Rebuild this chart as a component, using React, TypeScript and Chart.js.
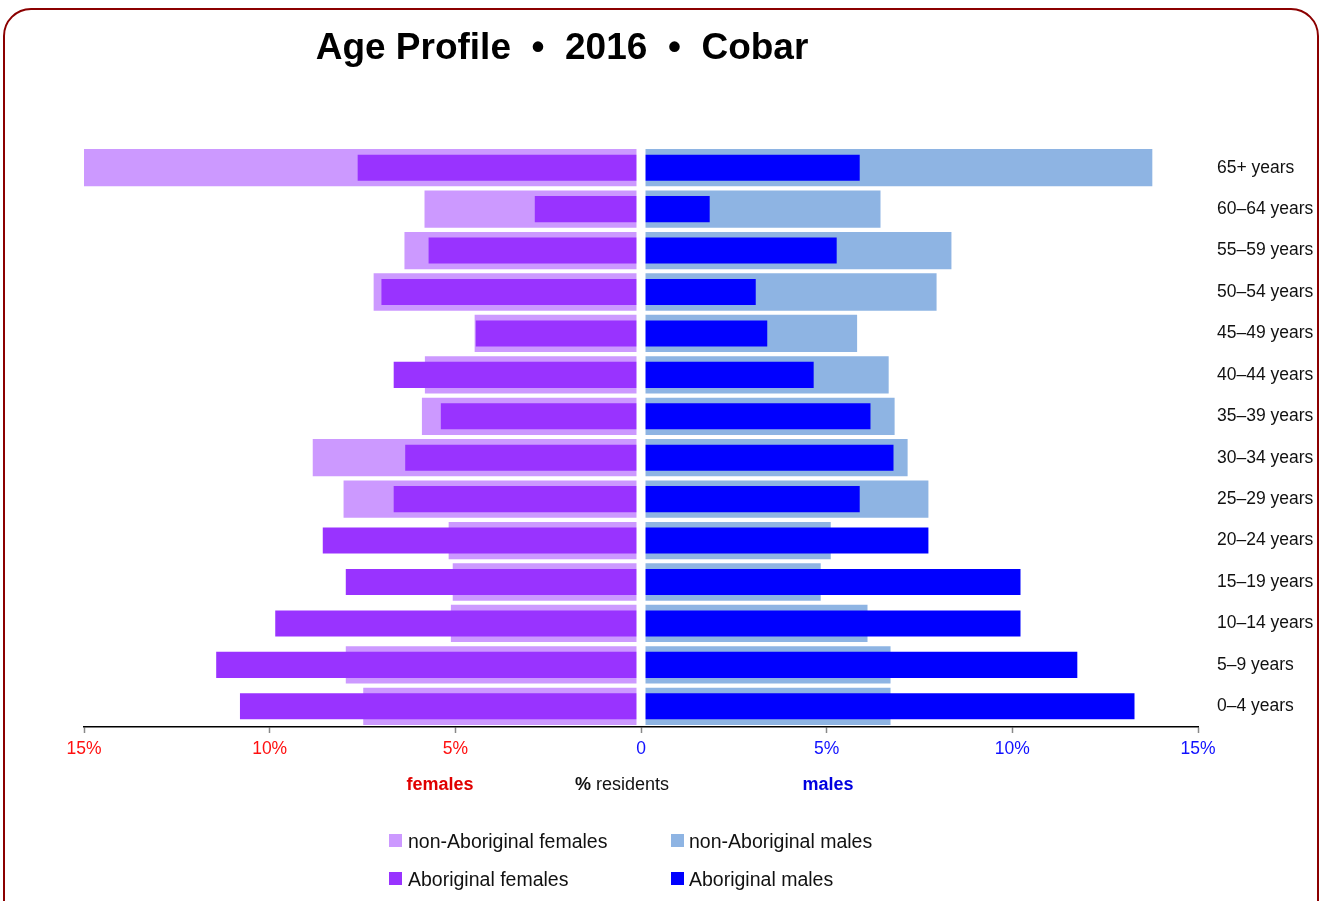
import React, { useEffect, useRef } from "react";
import { Chart, registerables } from "chart.js";

Chart.register(...registerables);

const ageGroups = [
  "65+ years",
  "60–64 years",
  "55–59 years",
  "50–54 years",
  "45–49 years",
  "40–44 years",
  "35–39 years",
  "30–34 years",
  "25–29 years",
  "20–24 years",
  "15–19 years",
  "10–14 years",
  "5–9 years",
  "0–4 years",
];

// % of residents (females shown to the left)
const nonAbFemales = [15.0, 5.83, 6.37, 7.2, 4.48, 5.82, 5.9, 8.84, 8.01, 5.18, 5.07, 5.12, 7.95, 7.48];
const abFemales = [7.63, 2.86, 5.72, 6.99, 4.45, 6.66, 5.39, 6.35, 6.66, 8.57, 7.95, 9.85, 11.44, 10.8];
const nonAbMales = [13.77, 6.45, 8.36, 7.96, 5.82, 6.67, 6.83, 7.18, 7.74, 5.11, 4.84, 6.1, 6.72, 6.72];
const abMales = [5.89, 1.85, 5.27, 3.09, 3.4, 4.65, 6.18, 6.8, 5.89, 7.74, 10.22, 10.22, 11.75, 13.29];

const xTickValues = [-15, -10, -5, 0, 5, 10, 15];

const FONT = '"Liberation Sans", Arial, Helvetica, sans-serif';
const RED = "#FF1010";
const BLUE = "#1010FF";

const centreGap = {
  id: "centreGap",
  afterDatasetsDraw(chart: any) {
    const { ctx, chartArea, scales } = chart;
    const x0 = scales.x.getPixelForValue(0);
    ctx.save();
    ctx.fillStyle = "#ffffff";
    ctx.fillRect(x0 - 4.5, chartArea.top, 9, chartArea.bottom - chartArea.top - 1.5);
    ctx.restore();
  },
};

export default function App() {
  const ref = useRef<HTMLCanvasElement | null>(null);

  useEffect(() => {
    if (!ref.current) return;
    const common = { categoryPercentage: 1, grouped: false, borderWidth: 0 };
    const chart = new Chart(ref.current, {
      type: "bar",
      data: {
        labels: ageGroups,
        datasets: [
          { label: "Aboriginal females", data: abFemales.map((v) => -v), backgroundColor: "#9933FF", barPercentage: 0.63, ...common },
          { label: "Aboriginal males", data: abMales, backgroundColor: "#0000FF", barPercentage: 0.63, ...common },
          { label: "non-Aboriginal females", data: nonAbFemales.map((v) => -v), backgroundColor: "#CC99FF", barPercentage: 0.9, ...common },
          { label: "non-Aboriginal males", data: nonAbMales, backgroundColor: "#8EB4E3", barPercentage: 0.9, ...common },
        ] as any,
      },
      options: {
        indexAxis: "y",
        responsive: false,
        animation: false,
        layout: { padding: { left: 84, top: 147, right: 0, bottom: 144 } },
        plugins: {
          legend: { display: false },
          title: { display: false },
          tooltip: { enabled: false },
        },
        scales: {
          x: {
            type: "linear",
            min: -15,
            max: 15,
            afterBuildTicks: (s: any) => {
              s.ticks = xTickValues.map((v) => ({ value: v }));
            },
            afterFit: (s: any) => {
              s.height = 30;
            },
            ticks: {
              autoSkip: false,
              maxRotation: 0,
              padding: 6,
              callback: (v: any) => (Number(v) === 0 ? "0" : Math.abs(Number(v)) + "%"),
              color: (c: any) => (c.tick && c.tick.value < 0 ? RED : BLUE),
              font: { family: FONT, size: 17.5 },
            },
            grid: {
              drawOnChartArea: false,
              drawTicks: true,
              tickLength: 6,
              tickColor: "#888888",
              tickWidth: 1.5,
              color: "#888888",
            },
            border: { display: true, color: "#000000", width: 1.5 },
          },
          y: {
            position: "right",
            afterFit: (s: any) => {
              s.width = 126;
            },
            grid: { display: false, drawTicks: false },
            border: { display: false },
            ticks: {
              autoSkip: false,
              padding: 19,
              color: "#111111",
              font: { family: FONT, size: 17.5 },
            },
          },
        },
      } as any,
      plugins: [centreGap],
    });
    return () => chart.destroy();
  }, []);

  const txt = (extra: React.CSSProperties): React.CSSProperties => ({
    position: "absolute",
    fontFamily: FONT,
    fontSize: 18,
    lineHeight: "18px",
    whiteSpace: "pre",
    ...extra,
  });

  const legendItem = (left: number, textLeft: number, top: number, color: string, label: string) => (
    <div key={label}>
      <div style={{ position: "absolute", left, top: top + 2.5, width: 13, height: 13, background: color }} />
      <div style={txt({ left: textLeft, top, color: "#111", fontSize: 19.5, lineHeight: "19.5px" })}>{label}</div>
    </div>
  );

  return (
    <div style={{ position: "absolute", left: 0, top: 0, width: 1324, height: 901, overflow: "hidden", background: "#fff" }}>
      <div
        style={{
          position: "absolute",
          left: 3,
          top: 8,
          width: 1316,
          height: 960,
          boxSizing: "border-box",
          border: "2px solid #8B0000",
          borderRadius: 28,
        }}
      />
      <canvas ref={ref} width={1324} height={901} style={{ position: "absolute", left: 0, top: 0, width: 1324, height: 901 }} />
      <div style={txt({ left: 312, top: 28, width: 500, textAlign: "center", fontSize: 37, lineHeight: "37px", fontWeight: "bold", color: "#000" })}>
        {"Age Profile  •  2016  •  Cobar"}
      </div>
      <div style={txt({ left: 340, top: 775, width: 200, textAlign: "center", fontWeight: "bold", color: "#E00000" })}>females</div>
      <div style={txt({ left: 522, top: 775, width: 200, textAlign: "center", color: "#111" })}>
        <b>%</b> residents
      </div>
      <div style={txt({ left: 728, top: 775, width: 200, textAlign: "center", fontWeight: "bold", color: "#0000E0" })}>males</div>
      {legendItem(389, 408, 831.5, "#CC99FF", "non-Aboriginal females")}
      {legendItem(671, 689, 831.5, "#8EB4E3", "non-Aboriginal males")}
      {legendItem(389, 408, 869.5, "#9933FF", "Aboriginal females")}
      {legendItem(671, 689, 869.5, "#0000FF", "Aboriginal males")}
    </div>
  );
}
